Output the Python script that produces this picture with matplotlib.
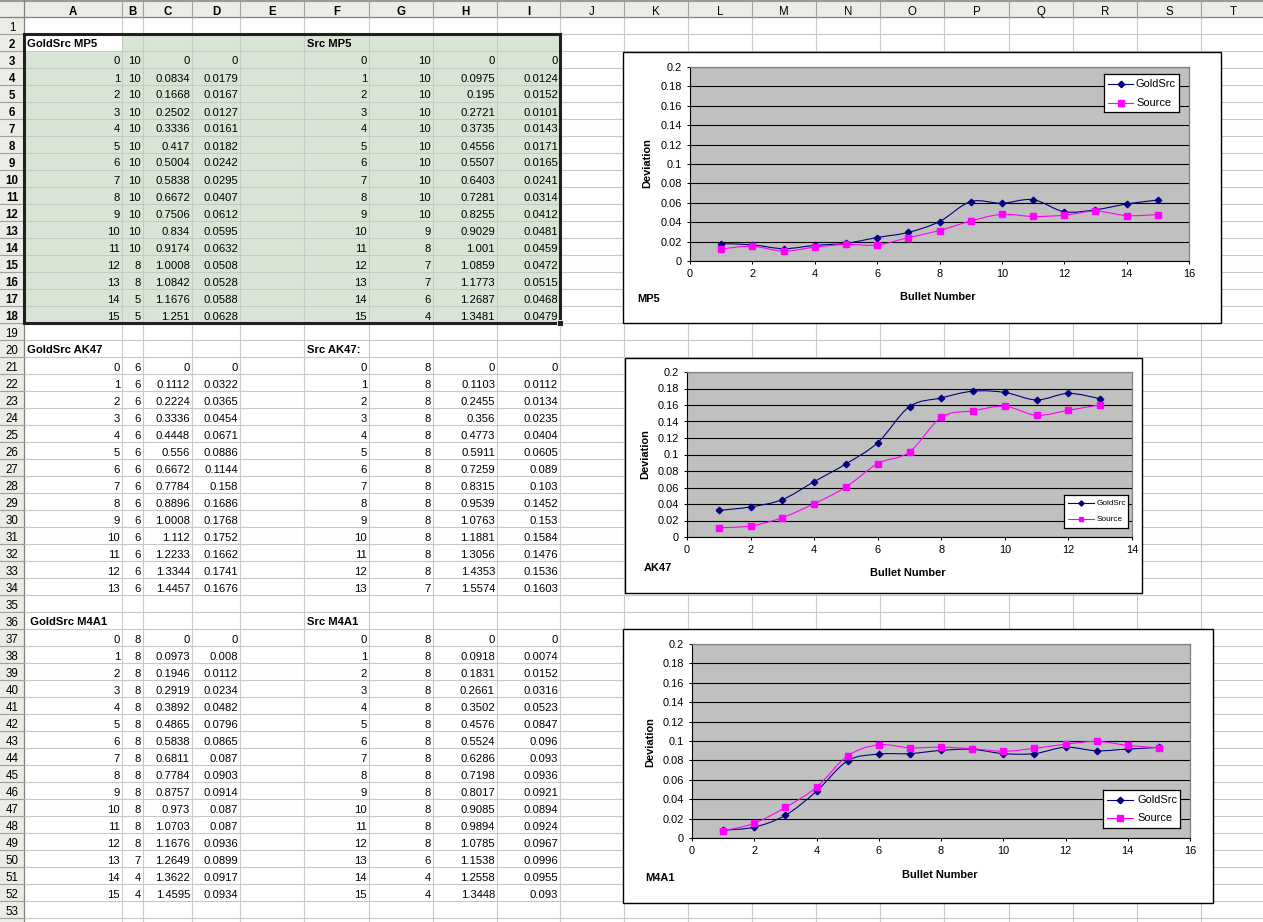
import matplotlib
matplotlib.use('Agg')
import matplotlib.pyplot as plt
from matplotlib.patches import Rectangle, PathPatch
from matplotlib.path import Path
from matplotlib.lines import Line2D
from matplotlib.ticker import FuncFormatter

plt.rcParams['font.family'] = ['Liberation Sans', 'DejaVu Sans']

# ---------------- data ----------------
mp5_gs_title = "GoldSrc MP5"
mp5_src_title = "Src MP5"
mp5_idx = [0, 1, 2, 3, 4, 5, 6, 7, 8, 9, 10, 11, 12, 13, 14, 15]
mp5_gs_count = [10, 10, 10, 10, 10, 10, 10, 10, 10, 10, 10, 10, 8, 8, 5, 5]
mp5_gs_dist = [0, 0.0834, 0.1668, 0.2502, 0.3336, 0.417, 0.5004, 0.5838, 0.6672, 0.7506,
               0.834, 0.9174, 1.0008, 1.0842, 1.1676, 1.251]
mp5_gs_dev = [0, 0.0179, 0.0167, 0.0127, 0.0161, 0.0182, 0.0242, 0.0295, 0.0407, 0.0612,
              0.0595, 0.0632, 0.0508, 0.0528, 0.0588, 0.0628]
mp5_src_count = [10, 10, 10, 10, 10, 10, 10, 10, 10, 10, 9, 8, 7, 7, 6, 4]
mp5_src_dist = [0, 0.0975, 0.195, 0.2721, 0.3735, 0.4556, 0.5507, 0.6403, 0.7281, 0.8255,
                0.9029, 1.001, 1.0859, 1.1773, 1.2687, 1.3481]
mp5_src_dev = [0, 0.0124, 0.0152, 0.0101, 0.0143, 0.0171, 0.0165, 0.0241, 0.0314, 0.0412,
               0.0481, 0.0459, 0.0472, 0.0515, 0.0468, 0.0479]

ak_gs_title = "GoldSrc AK47"
ak_src_title = "Src AK47:"
ak_idx = [0, 1, 2, 3, 4, 5, 6, 7, 8, 9, 10, 11, 12, 13]
ak_gs_count = [6, 6, 6, 6, 6, 6, 6, 6, 6, 6, 6, 6, 6, 6]
ak_gs_dist = [0, 0.1112, 0.2224, 0.3336, 0.4448, 0.556, 0.6672, 0.7784, 0.8896, 1.0008,
              1.112, 1.2233, 1.3344, 1.4457]
ak_gs_dev = [0, 0.0322, 0.0365, 0.0454, 0.0671, 0.0886, 0.1144, 0.158, 0.1686, 0.1768,
             0.1752, 0.1662, 0.1741, 0.1676]
ak_src_count = [8, 8, 8, 8, 8, 8, 8, 8, 8, 8, 8, 8, 8, 7]
ak_src_dist = [0, 0.1103, 0.2455, 0.356, 0.4773, 0.5911, 0.7259, 0.8315, 0.9539, 1.0763,
               1.1881, 1.3056, 1.4353, 1.5574]
ak_src_dev = [0, 0.0112, 0.0134, 0.0235, 0.0404, 0.0605, 0.089, 0.103, 0.1452, 0.153,
              0.1584, 0.1476, 0.1536, 0.1603]

m4_gs_title = " GoldSrc M4A1"
m4_src_title = "Src M4A1"
m4_idx = [0, 1, 2, 3, 4, 5, 6, 7, 8, 9, 10, 11, 12, 13, 14, 15]
m4_gs_count = [8, 8, 8, 8, 8, 8, 8, 8, 8, 8, 8, 8, 8, 7, 4, 4]
m4_gs_dist = [0, 0.0973, 0.1946, 0.2919, 0.3892, 0.4865, 0.5838, 0.6811, 0.7784, 0.8757,
              0.973, 1.0703, 1.1676, 1.2649, 1.3622, 1.4595]
m4_gs_dev = [0, 0.008, 0.0112, 0.0234, 0.0482, 0.0796, 0.0865, 0.087, 0.0903, 0.0914,
             0.087, 0.087, 0.0936, 0.0899, 0.0917, 0.0934]
m4_src_count = [8, 8, 8, 8, 8, 8, 8, 8, 8, 8, 8, 8, 8, 6, 4, 4]
m4_src_dist = [0, 0.0918, 0.1831, 0.2661, 0.3502, 0.4576, 0.5524, 0.6286, 0.7198, 0.8017,
               0.9085, 0.9894, 1.0785, 1.1538, 1.2558, 1.3448]
m4_src_dev = [0, 0.0074, 0.0152, 0.0316, 0.0523, 0.0847, 0.096, 0.093, 0.0936, 0.0921,
              0.0894, 0.0924, 0.0967, 0.0996, 0.0955, 0.093]

col_letters = ['A', 'B', 'C', 'D', 'E', 'F', 'G', 'H', 'I', 'J',
               'K', 'L', 'M', 'N', 'O', 'P', 'Q', 'R', 'S', 'T']
series_names = ["GoldSrc", "Source"]
chart_names = ["MP5", "AK47", "M4A1"]
x_label = "Bullet Number"
y_label = "Deviation"

# ---------------- layout ----------------
W, H = 1263, 922
fig = plt.figure(figsize=(W / 100, H / 100), dpi=100)
bg = fig.add_axes([0, 0, 1, 1])
bg.set_xlim(0, W)
bg.set_ylim(H, 0)
bg.axis('off')

col_edges = [0, 24, 122, 143, 192, 240, 304, 369, 433, 497, 560, 624, 688, 752, 816,
             880, 944, 1009, 1073, 1137, 1201, 1265]
HDR = 17
RH = 17
N_ROWS = 54
N_LABELED = 53
FS = 8.1
CFS = 7.9
HFS = 8.3


def row_top(r):
    return HDR + (r - 1) * RH


def col_left(c):
    return col_edges[c + 1]


def col_right(c):
    return col_edges[c + 2]


# selection fill
sel_top = row_top(2)
sel_bot = row_top(19)
bg.add_patch(Rectangle((24, sel_top), 560 - 24, sel_bot - sel_top,
                       facecolor='#D8E5D4', edgecolor='none', zorder=0))
bg.add_patch(Rectangle((24, sel_top), 122 - 24, RH, facecolor='white',
                       edgecolor='none', zorder=0.5))

# grid lines
for x in col_edges[2:]:
    bg.plot([x, x], [HDR, H], color='#C8C8C8', lw=0.8, zorder=1)
for r in range(1, N_ROWS + 1):
    y = row_top(r) + RH
    bg.plot([24, W], [y, y], color='#C8C8C8', lw=0.8, zorder=1)

# headers
bg.add_patch(Rectangle((0, 0), W, HDR, facecolor='#ECEBE5', edgecolor='none', zorder=2))
bg.add_patch(Rectangle((0, HDR), 24, H - HDR, facecolor='#ECEBE5', edgecolor='none', zorder=2))
bg.plot([0, W], [1, 1], color='#9A9A9A', lw=1.5, zorder=3)
bg.plot([0, W], [HDR, HDR], color='#808080', lw=0.9, zorder=3)
bg.plot([24, 24], [0, H], color='#808080', lw=0.9, zorder=3)
for x in col_edges[2:]:
    bg.plot([x, x], [1, HDR], color='#A0A0A0', lw=0.8, zorder=3)
for r in range(1, N_ROWS + 1):
    y = row_top(r) + RH
    bg.plot([0, 24], [y, y], color='#A0A0A0', lw=0.8, zorder=3)

for i, L in enumerate(col_letters):
    xc = (col_left(i) + col_right(i)) / 2
    bg.text(xc, 15.2, L, ha='center', va='baseline', fontsize=HFS,
            fontweight='bold' if i <= 8 else 'normal', zorder=4)
for r in range(1, N_LABELED + 1):
    bg.text(12, row_top(r) + RH - 2.8, str(r), ha='center', va='baseline', fontsize=HFS,
            fontweight='bold' if 2 <= r <= 18 else 'normal', zorder=4)


def fmt(v):
    return f"{v:g}"


def put_num(c, r, v):
    bg.text(col_right(c) - 2, row_top(r) + RH - 3.5, fmt(v), ha='right', va='baseline',
            fontsize=FS, zorder=4)


def put_title(c, r, s):
    bg.text(col_left(c) + 3, row_top(r) + RH - 3.8, s, ha='left', va='baseline',
            fontsize=FS, fontweight='bold', zorder=4)


blocks = [
    (2, mp5_gs_title, mp5_src_title, mp5_idx, mp5_gs_count, mp5_gs_dist, mp5_gs_dev,
     mp5_src_count, mp5_src_dist, mp5_src_dev),
    (20, ak_gs_title, ak_src_title, ak_idx, ak_gs_count, ak_gs_dist, ak_gs_dev,
     ak_src_count, ak_src_dist, ak_src_dev),
    (36, m4_gs_title, m4_src_title, m4_idx, m4_gs_count, m4_gs_dist, m4_gs_dev,
     m4_src_count, m4_src_dist, m4_src_dev),
]
for (tr, t1, t2, idx, gc, gd, gv, sc, sd, sv) in blocks:
    put_title(0, tr, t1)
    put_title(5, tr, t2)
    for k in range(len(idx)):
        r = tr + 1 + k
        put_num(0, r, idx[k])
        put_num(1, r, gc[k])
        put_num(2, r, gd[k])
        put_num(3, r, gv[k])
        put_num(5, r, idx[k])
        put_num(6, r, sc[k])
        put_num(7, r, sd[k])
        put_num(8, r, sv[k])

# selection border
bg.add_patch(Rectangle((24, sel_top), 560 - 24, sel_bot - sel_top, fill=False,
                       edgecolor='#202020', lw=2.2, zorder=5))
bg.add_patch(Rectangle((557, sel_bot - 3), 6, 6, facecolor='#202020', edgecolor='white',
                       lw=0.6, zorder=6))


# ---------------- charts ----------------
def frac(x0, y0, x1, y1):
    return [x0 / W, 1 - y1 / H, (x1 - x0) / W, (y1 - y0) / H]


def smooth_path(xs, ys):
    n = len(xs)
    verts = [(xs[0], ys[0])]
    codes = [Path.MOVETO]
    for i in range(n - 1):
        i0 = max(i - 1, 0)
        i3 = min(i + 2, n - 1)
        c1 = (xs[i] + (xs[i + 1] - xs[i0]) / 6, ys[i] + (ys[i + 1] - ys[i0]) / 6)
        c2 = (xs[i + 1] - (xs[i3] - xs[i]) / 6, ys[i + 1] - (ys[i3] - ys[i]) / 6)
        verts += [c1, c2, (xs[i + 1], ys[i + 1])]
        codes += [Path.CURVE4] * 3
    return Path(verts, codes)


styles = [dict(color='#000080', marker='D', ms=3.3),
          dict(color='#FF00FF', marker='s', ms=4.2)]


def make_chart(outer, plot, xmax, idx, gs, src, name, leg_box, leg_rows, leg_fs,
               leg_line, dev_pos, bn_pos, name_pos, leg_ms_scale=1.0):
    x0, y0, x1, y1 = outer
    bg.add_patch(Rectangle((x0, y0), x1 - x0, y1 - y0, facecolor='white',
                           edgecolor='black', lw=1.0, zorder=7))
    ax = fig.add_axes(frac(*plot), zorder=10)
    ax.set_facecolor('#C0C0C0')
    ax.set_xlim(0, xmax)
    ax.set_ylim(0, 0.2)
    ax.set_yticks([i * 0.02 for i in range(11)])
    ax.set_xticks(list(range(0, xmax + 1, 2)))
    f = FuncFormatter(lambda v, p: f"{round(v, 4):g}")
    ax.yaxis.set_major_formatter(f)
    ax.xaxis.set_major_formatter(f)
    ax.tick_params(direction='out', length=2.5, width=0.75, pad=3.6, labelsize=CFS,
                   color='black')
    ax.grid(axis='y', color='black', lw=0.8)
    ax.set_axisbelow(True)
    for s in ['top', 'right']:
        ax.spines[s].set_color('#808080')
        ax.spines[s].set_linewidth(0.9)
    for s in ['left', 'bottom']:
        ax.spines[s].set_color('black')
        ax.spines[s].set_linewidth(0.8)
    xs = idx[1:]
    for vals, st in zip([gs[1:], src[1:]], styles):
        ax.add_patch(PathPatch(smooth_path(xs, vals), facecolor='none',
                               edgecolor=st['color'], lw=0.8, zorder=3))
        ax.plot(xs, vals, linestyle='none', marker=st['marker'], ms=st['ms'],
                color=st['color'], mec=st['color'], zorder=4, clip_on=False)

    bg.text(dev_pos[0], dev_pos[1], y_label, rotation=90, ha='center', va='center',
            fontsize=CFS, fontweight='bold', zorder=8)
    bg.text(bn_pos[0], bn_pos[1], x_label, ha='center', va='center', fontsize=CFS,
            fontweight='bold', zorder=8)
    bg.text(name_pos[0], name_pos[1], name, ha='left', va='center', fontsize=CFS,
            fontweight='bold', zorder=8)

    lx0, ly0, lx1, ly1 = leg_box
    lg = fig.add_axes(frac(lx0, ly0, lx1, ly1), zorder=12)
    lg.set_xlim(lx0, lx1)
    lg.set_ylim(ly1, ly0)
    lg.set_facecolor('white')
    lg.set_xticks([])
    lg.set_yticks([])
    for s in lg.spines.values():
        s.set_color('black')
        s.set_linewidth(0.9)
    for ny, st, lab in zip(leg_rows, styles, series_names):
        a, b, tx = leg_line
        lg.add_line(Line2D([a, b], [ny, ny], color=st['color'], lw=0.8))
        lg.plot([(a + b) / 2], [ny], marker=st['marker'], ms=st['ms'] * leg_ms_scale,
                color=st['color'], linestyle='none')
        lg.text(tx, ny, lab, ha='left', va='center', fontsize=leg_fs)
    return ax


make_chart((623, 52, 1221, 323), (690, 67, 1189, 261), 16, mp5_idx, mp5_gs_dev,
           mp5_src_dev, chart_names[0], (1104, 74, 1179, 112), (84, 103), CFS,
           (1108, 1133, 1136), (647, 163), (938, 297), (637, 299))
make_chart((625, 358, 1142, 593), (687, 372, 1132, 537), 14, ak_idx, ak_gs_dev,
           ak_src_dev, chart_names[1], (1064, 495, 1128, 528), (503, 519), 5.9,
           (1068, 1094, 1097), (645, 454), (908, 573), (644, 568), 0.8)
make_chart((623, 629, 1213, 903), (692, 644, 1190, 838), 16, m4_idx, m4_gs_dev,
           m4_src_dev, chart_names[2], (1103, 790, 1180, 828), (800, 818), CFS,
           (1107, 1133, 1137), (650, 742), (940, 875), (645, 878))

fig.savefig('out.png', dpi=100)
